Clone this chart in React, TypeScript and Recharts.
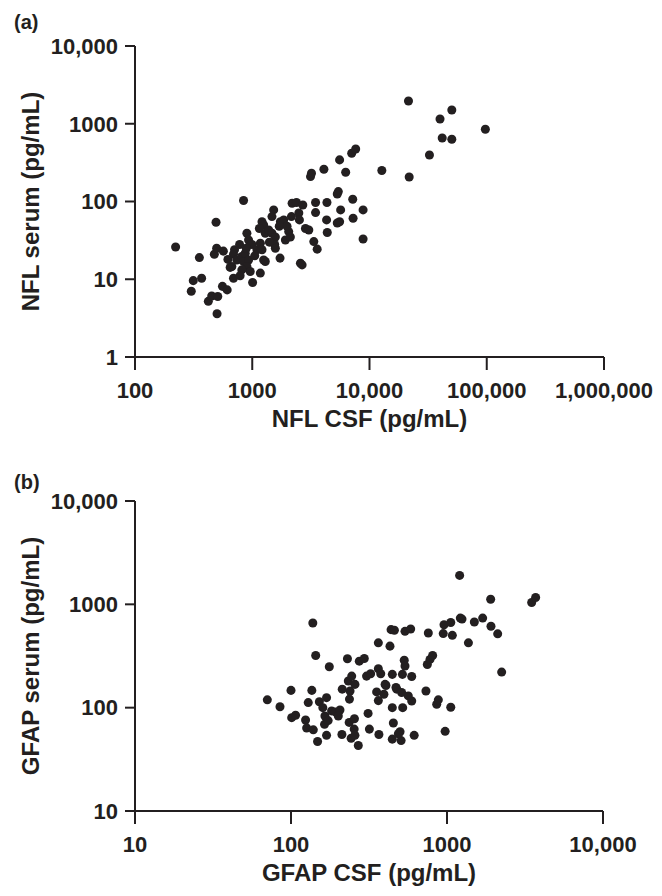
import { ScatterChart, Scatter, XAxis, YAxis, ZAxis, Label } from "recharts";

const INK = "#231f20";
const FONT = "'Liberation Sans', Arial, Helvetica, sans-serif";

// (a) NFL: CSF vs serum, pg/mL
const nflCsf = [
  222, 354, 314, 302, 370, 422, 451, 508, 501, 557, 611, 491, 475, 497, 567, 843, 706, 692, 670, 648,
  739, 815, 843, 871, 930, 900, 961, 815, 692, 788, 1007, 1172, 900, 930, 994, 1096, 1172, 1211, 1211, 1251,
  1292, 1380, 1473, 1574, 1523, 1473, 1292, 1251, 1553, 1574, 1726, 1738, 1855, 1917, 2046, 2113, 1980, 2188, 2383, 2158,
  2495, 2525, 2576, 2661, 2843, 3036, 3140, 3200, 3350, 3580, 3467, 3467, 4084, 4335, 4306, 4363, 5559, 6264, 5420, 5310,
  5674, 5310, 5559, 7050, 7626, 7195, 7244, 8817, 8817, 12740, 21500, 50350, 39950, 97300, 41700, 50350, 32460, 21800,
  890, 1050, 780, 1400, 1150, 620, 1700, 2700,
];
const nflSerum = [
  26, 19, 9.6, 7.0, 10.3, 5.2, 6.1, 6.0, 3.6, 8.1, 7.3, 54, 21, 25, 23, 103, 24, 21, 14.6, 14.2,
  17.7, 19.6, 16.9, 21.6, 17.7, 14.6, 12.6, 13.2, 10.3, 11.1, 9.1, 12, 39, 32, 28, 24, 29, 24, 55, 50,
  39, 43, 39, 35, 78, 64, 16.9, 17.7, 28, 25, 18.7, 55, 58, 32, 41, 35, 48, 95, 97, 64,
  71, 58, 16.1, 15.3, 45, 43, 209, 231, 30.5, 24.4, 97, 72, 260, 97, 58, 40, 343, 238, 134, 125,
  78, 53, 55, 417, 474, 107, 61, 78, 33, 250, 1963, 1503, 1153, 849, 656, 632, 397, 207,
  25, 20, 28, 30, 45, 18, 48, 90,
];
const nflCsfTicks = [100, 1000, 10000, 100000, 1000000];
const nflSerumTicks = [1, 10, 100, 1000, 10000];

// (b) GFAP: CSF vs serum, pg/mL
const gfapCsf = [
  70.5, 85, 100, 101, 107, 129, 136, 138, 144, 124, 126, 139, 148, 152, 160, 169, 165, 164, 173, 169,
  176, 182, 192, 206, 201, 212, 213, 230, 233, 239, 245, 237, 257, 236, 255, 254, 243, 270, 274, 295,
  305, 324, 312, 318, 363, 363, 376, 354, 363, 394, 406, 366, 431, 438, 460, 446, 471, 446, 453, 446,
  538, 585, 759, 532, 538, 518, 594, 476, 512, 565, 594, 520, 500, 508, 616, 733, 859, 880, 1057, 973,
  748, 778, 809, 946, 957, 1057, 1082, 1205, 1217, 1248, 1372, 1497, 1693, 1905, 1914, 2113, 2241, 3490, 3700,
  257, 401, 488,
];
const gfapSerum = [
  119, 102, 147, 80, 84.5, 112, 147, 659, 320, 76, 63.5, 61, 47, 114, 100, 125, 83, 69, 75, 54,
  249, 93, 91, 95, 83, 55, 151, 297, 181, 145, 202, 121, 168, 72, 78, 62, 50.6, 43, 282, 299,
  202, 213, 88, 62, 424, 238, 213, 142, 117, 135, 164, 55, 394, 569, 561, 210, 157, 100, 71, 49.6,
  548, 577, 528, 288, 253, 210, 200, 151, 140, 130, 116, 100, 58.5, 48, 54, 145, 108, 119, 101, 59,
  262, 293, 320, 521, 635, 668, 501, 1905, 736, 720, 424, 674, 736, 1121, 614, 518, 221, 1042, 1163,
  54, 168, 56,
];
const gfapCsfTicks = [10, 100, 1000, 10000];
const gfapSerumTicks = [10, 100, 1000, 10000];

const fmt = (v: number) =>
  v >= 10000 ? String(v).replace(/\B(?=(\d{3})+(?!\d))/g, ",") : String(v);

const tickStyle = { fontSize: 22, fontWeight: 700, fill: INK, fontFamily: FONT };
const titleStyle = { fontSize: 24, fontWeight: 700, fill: INK, fontFamily: FONT };

function Panel({ tag, tagTop, xs, ys, xTicks, yTicks, xTitle, yTitle, plotTop, plotRight }: any) {
  const data = xs.map((x: number, i: number) => ({ x, y: ys[i] }));
  return (
    <div style={{ position: "relative", width: 662, height: 454 }}>
      <div
        style={{
          position: "absolute",
          left: 14,
          top: tagTop,
          fontSize: 20,
          lineHeight: "20px",
          fontWeight: 700,
          color: INK,
          fontFamily: FONT,
        }}
      >
        {tag}
      </div>
      <ScatterChart width={662} height={454} margin={{ top: plotTop, right: plotRight, bottom: 17, left: 0 }}>
        <XAxis
          type="number"
          dataKey="x"
          scale="log"
          domain={[xTicks[0], xTicks[xTicks.length - 1]]}
          ticks={xTicks}
          interval={0}
          allowDataOverflow
          tickFormatter={fmt}
          height={80}
          axisLine={{ stroke: INK, strokeWidth: 2 }}
          tickLine={{ stroke: INK, strokeWidth: 2 }}
          tickSize={13}
          tickMargin={12}
          tick={tickStyle}
        >
          <Label value={xTitle} position="insideBottom" offset={10} style={titleStyle} />
        </XAxis>
        <YAxis
          type="number"
          dataKey="y"
          scale="log"
          domain={[yTicks[0], yTicks[yTicks.length - 1]]}
          ticks={yTicks}
          interval={0}
          allowDataOverflow
          tickFormatter={fmt}
          width={135}
          axisLine={{ stroke: INK, strokeWidth: 2 }}
          tickLine={{ stroke: INK, strokeWidth: 2 }}
          tickSize={10}
          tickMargin={7}
          tick={tickStyle}
        >
          <Label
            value={yTitle}
            angle={-90}
            position="insideLeft"
            offset={30}
            style={{ ...titleStyle, textAnchor: "middle" }}
          />
        </YAxis>
        <ZAxis range={[64, 64]} />
        <Scatter data={data} fill={INK} isAnimationActive={false} />
      </ScatterChart>
    </div>
  );
}

export default function App() {
  return (
    <div style={{ position: "absolute", left: 0, top: 0, width: 662, height: 896, background: "#fff" }}>
      <Panel
        tag="(a)"
        tagTop={12}
        xs={nflCsf}
        ys={nflSerum}
        xTicks={nflCsfTicks}
        yTicks={nflSerumTicks}
        xTitle="NFL CSF (pg/mL)"
        yTitle="NFL serum (pg/mL)"
        plotTop={46}
        plotRight={58}
      />
      <Panel
        tag="(b)"
        tagTop={18}
        xs={gfapCsf}
        ys={gfapSerum}
        xTicks={gfapCsfTicks}
        yTicks={gfapSerumTicks}
        xTitle="GFAP CSF (pg/mL)"
        yTitle="GFAP serum (pg/mL)"
        plotTop={47}
        plotRight={59}
      />
    </div>
  );
}
